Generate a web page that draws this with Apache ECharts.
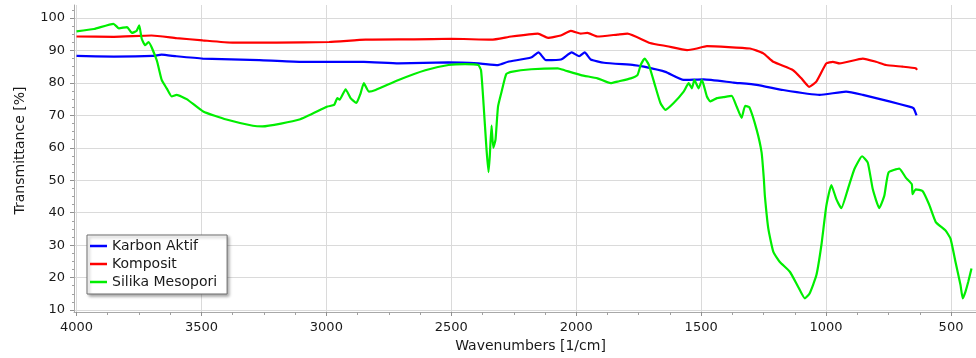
<!DOCTYPE html>
<html>
<head>
<meta charset="utf-8">
<script src="https://cdn.jsdelivr.net/npm/echarts@6/dist/echarts.min.js"></script>
<style>
  html, body { margin: 0; padding: 0; background: #fff; }
  #chart { width: 976px; height: 358px; }
</style>
</head>
<body>
<div id="chart"></div>
<script>
var myChart = echarts.init(document.getElementById('chart'));

// wavenumber [1/cm] and transmittance [%]
var karbonWn = [4000, 3850, 3694, 3660, 3600, 3495, 3268, 3108, 2850, 2711, 2512, 2392, 2313, 2273, 2181, 2151, 2121, 2061, 2018, 1988, 1966, 1942, 1889, 1769, 1729, 1643, 1570, 1490, 1371, 1278, 1172, 1026, 920, 853, 747, 667, 650, 638];
var karbonT  = [88.3, 88.1, 88.3, 88.7, 88.2, 87.5, 87.0, 86.5, 86.5, 86.0, 86.3, 86.0, 85.5, 86.5, 87.8, 89.4, 87.0, 87.2, 89.4, 88.2, 89.4, 87.2, 86.2, 85.5, 85.0, 83.4, 80.9, 81.1, 80.1, 79.4, 77.8, 76.3, 77.3, 76.3, 74.3, 72.7, 72.2, 70.0];

var kompositWn = [4000, 3850, 3700, 3600, 3495, 3375, 3200, 2989, 2843, 2650, 2500, 2340, 2260, 2153, 2113, 2062, 2022, 1982, 1955, 1915, 1835, 1795, 1705, 1636, 1556, 1517, 1477, 1305, 1251, 1211, 1132, 1099, 1068, 1039, 999, 973, 946, 853, 800, 760, 694, 641, 636];
var kompositT  = [94.3, 94.2, 94.6, 93.8, 93.1, 92.4, 92.4, 92.6, 93.3, 93.4, 93.6, 93.3, 94.3, 95.2, 93.9, 94.6, 96.0, 95.2, 95.4, 94.3, 94.9, 95.2, 92.3, 91.3, 90.1, 90.6, 91.3, 90.6, 89.1, 86.5, 83.9, 81.4, 78.8, 80.4, 86.0, 86.5, 86.0, 87.5, 86.5, 85.5, 85.0, 84.5, 84.0];

var silikaWn = [4000, 3930, 3852, 3830, 3798, 3778, 3760, 3749, 3739, 3725, 3712, 3679, 3659, 3639, 3619, 3599, 3559, 3493, 3400, 3294, 3256, 3108, 2996, 2969, 2956, 2947, 2923, 2903, 2880, 2863, 2850, 2830, 2803, 2711, 2604, 2511, 2445, 2392, 2381, 2372, 2359, 2351, 2346, 2339, 2332, 2323, 2313, 2297, 2280, 2260, 2180, 2074, 2047, 1981, 1915, 1862, 1835, 1782, 1755, 1742, 1726, 1709, 1683, 1663, 1643, 1610, 1570, 1550, 1537, 1527, 1510, 1497, 1477, 1464, 1437, 1411, 1378, 1358, 1338, 1324, 1307, 1278, 1258, 1249, 1245, 1231, 1211, 1185, 1145, 1112, 1085, 1066, 1039, 1019, 999, 979, 959, 939, 913, 887, 856, 833, 813, 787, 767, 750, 707, 681, 657, 654, 641, 614, 588, 561, 522, 502, 482, 462, 453, 442, 431, 418];
var silikaT  = [95.9, 96.6, 98.2, 96.8, 97.2, 95.4, 96.0, 97.7, 93.6, 91.6, 92.6, 87.0, 80.9, 78.3, 75.8, 76.3, 75.0, 71.2, 68.7, 66.8, 66.6, 68.7, 72.7, 73.2, 75.3, 74.8, 78.0, 75.3, 73.8, 76.8, 79.9, 77.3, 77.8, 80.9, 83.9, 85.5, 85.8, 85.5, 83.9, 74.8, 59.5, 52.5, 57.4, 66.8, 60.0, 62.5, 72.7, 77.8, 82.7, 83.4, 84.2, 84.5, 83.9, 82.4, 81.4, 79.9, 80.4, 81.4, 82.4, 85.5, 87.5, 85.5, 78.8, 73.8, 71.7, 73.8, 77.3, 79.9, 78.3, 80.9, 78.3, 80.9, 75.8, 74.3, 75.3, 75.6, 76.0, 72.7, 69.2, 72.9, 72.5, 65.6, 58.5, 50.3, 45.2, 35.0, 27.9, 24.8, 21.8, 17.2, 13.6, 15.1, 20.7, 29.9, 42.1, 48.5, 44.2, 41.4, 47.2, 53.4, 57.4, 55.4, 47.2, 41.4, 45.2, 52.4, 53.6, 50.8, 48.8, 45.7, 47.2, 46.7, 42.6, 37.1, 34.5, 32.0, 24.8, 17.7, 13.6, 15.7, 18.7, 22.8];

var seriesNames = ['Karbon Aktif', 'Komposit', 'Silika Mesopori'];
var seriesColors = ['#0000ff', '#ff0000', '#00ee00'];

// tick values
var xMajor = [500, 1000, 1500, 2000, 2500, 3000, 3500, 4000];
var xMinor = [625, 750, 875, 1125, 1250, 1375, 1625, 1750, 1875, 2125, 2250, 2375, 2625, 2750, 2875, 3125, 3250, 3375, 3625, 3750, 3875];
var yMajor = [10, 20, 30, 40, 50, 60, 70, 80, 90, 100];
var yMinor = [12.5, 15, 17.5, 22.5, 25, 27.5, 32.5, 35, 37.5, 42.5, 45, 47.5, 52.5, 55, 57.5, 62.5, 65, 67.5, 72.5, 75, 77.5, 82.5, 85, 87.5, 92.5, 95, 97.5, 102.5];

function pairs(xs, ys) {
  return xs.map(function (x, i) { return [x, ys[i]]; });
}
var allData = [pairs(karbonWn, karbonT), pairs(kompositWn, kompositT), pairs(silikaWn, silikaT)];

var font = 'DejaVu Sans';
var xRange = { min: 400, max: 4010 };
var yRange = { min: 9.4, max: 104 };
var plain = function (v) { return String(v); };

var option = {
  animation: false,
  backgroundColor: '#ffffff',
  grid: { left: 74, right: -8.5, top: 5, bottom: 45, containLabel: false },
  legend: {
    orient: 'vertical',
    left: 87,
    top: 235,
    data: seriesNames,
    icon: 'rect',
    itemWidth: 17,
    itemHeight: 2.5,
    itemGap: 4,
    padding: [4, 10, 5, 3],
    backgroundColor: '#ffffff',
    borderColor: '#6e6e6e',
    borderWidth: 1,
    shadowColor: 'rgba(0,0,0,0.35)',
    shadowBlur: 3,
    shadowOffsetX: 2,
    shadowOffsetY: 2,
    textStyle: { fontFamily: font, fontSize: 14, color: '#1a1a1a' }
  },
  xAxis: [
    {
      type: 'value', inverse: true, min: xRange.min, max: xRange.max, position: 'bottom',
      name: 'Wavenumbers [1/cm]', nameLocation: 'middle', nameGap: 27,
      nameTextStyle: { fontFamily: font, fontSize: 14, color: '#1a1a1a', padding: [0, 0, 0, 11] },
      axisLine: { show: true, lineStyle: { color: '#a8a8a8', width: 1 } },
      axisTick: { show: true, customValues: xMajor, length: 4, lineStyle: { color: '#909090' } },
      axisLabel: { customValues: xMajor, formatter: plain, fontFamily: font, fontSize: 13, color: '#1a1a1a', margin: 9 },
      splitLine: { show: true, lineStyle: { color: '#dadada', width: 1 } }
    },
    {
      type: 'value', inverse: true, min: xRange.min, max: xRange.max, position: 'bottom', offset: 0,
      axisLine: { show: false },
      axisTick: { show: true, customValues: xMinor, length: 3, lineStyle: { color: '#a0a0a0' } },
      axisLabel: { show: false },
      splitLine: { show: false }
    }
  ],
  yAxis: [
    {
      type: 'value', min: yRange.min, max: yRange.max, position: 'left',
      name: 'Transmittance [%]', nameLocation: 'middle', nameGap: 47,
      nameTextStyle: { fontFamily: font, fontSize: 14, color: '#1a1a1a', padding: [0, 0, 0, 16] },
      axisLine: { show: true, lineStyle: { color: '#a8a8a8', width: 1 } },
      axisTick: { show: true, customValues: yMajor, length: 4, lineStyle: { color: '#909090' } },
      axisLabel: { customValues: yMajor, formatter: plain, fontFamily: font, fontSize: 13, color: '#1a1a1a', margin: 9 },
      splitLine: { show: true, lineStyle: { color: '#dadada', width: 1 } }
    },
    {
      type: 'value', min: yRange.min, max: yRange.max, position: 'left', offset: 0,
      axisLine: { show: false },
      axisTick: { show: true, customValues: yMinor, length: 2, lineStyle: { color: '#a0a0a0' } },
      axisLabel: { show: false },
      splitLine: { show: false }
    }
  ],
  series: seriesNames.map(function (name, idx) {
    return {
      name: name,
      type: 'line',
      xAxisIndex: 0,
      yAxisIndex: 0,
      data: allData[idx],
      showSymbol: false,
      smooth: 0.15,
      color: seriesColors[idx],
      lineStyle: { width: 2.2, color: seriesColors[idx] },
      z: 3 + (idx === 2 ? 1 : 0)
    };
  })
};

myChart.setOption(option);
</script>
</body>
</html>
